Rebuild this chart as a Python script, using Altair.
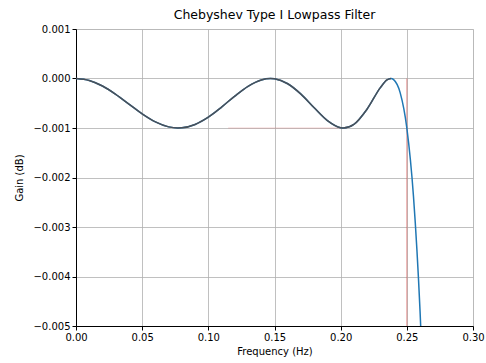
import altair as alt
import pandas as pd

# Frequency (Hz) and gain (dB)
freq = [0.0, 0.01, 0.02, 0.03, 0.04, 0.05, 0.06, 0.07, 0.077, 0.08, 0.09, 0.10,
        0.11, 0.12, 0.13, 0.14, 0.147, 0.15, 0.16, 0.17, 0.18, 0.19, 0.20, 0.202,
        0.21, 0.22, 0.23, 0.235, 0.238, 0.24, 0.245, 0.25, 0.255, 0.26, 0.262]
gain = [0.0, -0.0000395, -0.000152, -0.000320, -0.000518, -0.000714, -0.000877,
        -0.000977, -0.001, -0.000997, -0.000929, -0.000781, -0.000578, -0.000355,
        -0.000157, -0.0000285, 0.0, -0.0000058, -0.000106, -0.000316, -0.000592,
        -0.000851, -0.000994, -0.001, -0.000927, -0.000617, -0.000184, -0.0000286,
        0.0, -0.0000229, -0.00029, -0.001, -0.002375, -0.004705, -0.005984]

# overlay (dark) portion of the curve ends at the last ripple peak
overlay_end = 0.238

cutoff_x = [0.25]
cutoff_y = [0.0, -0.005]
ripple_y = [-0.001]
ripple_x = [0.115, 0.205]

df = pd.DataFrame({"f": freq, "g": gain})
df_dark = df[df["f"] <= overlay_end]

FONT = "DejaVu Sans"

xscale = alt.Scale(domain=[0, 0.30], nice=False, zero=False)
yscale = alt.Scale(domain=[-0.005, 0.001], nice=False, zero=False)

xaxis = alt.Axis(values=[0, 0.05, 0.10, 0.15, 0.20, 0.25, 0.30], format=".2f",
                 title="Frequency (Hz)", grid=True, gridColor="#b0b0b0",
                 gridWidth=0.8, tickColor="black", domainColor="black",
                 tickSize=4, labelFont=FONT, labelFontSize=10, labelColor="black",
                 titleFont=FONT, titleFontSize=10, titleFontWeight="normal",
                 titleColor="black", labelPadding=2, titlePadding=4,
                 labelFlush=False, labelOverlap=False)
yaxis = alt.Axis(values=[0.001, 0.0, -0.001, -0.002, -0.003, -0.004, -0.005],
                 format=".3f", title="Gain (dB)", grid=True, gridColor="#b0b0b0",
                 gridWidth=0.8, tickColor="black", domainColor="black",
                 tickSize=4, labelFont=FONT, labelFontSize=10, labelColor="black",
                 titleFont=FONT, titleFontSize=10, titleFontWeight="normal",
                 titleColor="black", labelPadding=2, titlePadding=8,
                 labelFlush=False, labelOverlap=False)

blue = alt.Chart(df).mark_line(color="#1f77b4", strokeWidth=1.5, clip=True,
                               interpolate="monotone").encode(
    x=alt.X("f:Q", scale=xscale, axis=xaxis),
    y=alt.Y("g:Q", scale=yscale, axis=yaxis),
)
dark = alt.Chart(df_dark).mark_line(color="#4a5058", strokeWidth=1.5, clip=True,
                                    interpolate="monotone").encode(
    x=alt.X("f:Q", scale=xscale),
    y=alt.Y("g:Q", scale=yscale),
)

vline = alt.Chart(pd.DataFrame({"x": cutoff_x, "y1": [cutoff_y[0]], "y2": [cutoff_y[1]]})).mark_rule(
    color="#d9534f", strokeWidth=0.8, opacity=0.75).encode(
    x=alt.X("x:Q", scale=xscale), y=alt.Y("y1:Q", scale=yscale), y2="y2:Q")

hline = alt.Chart(pd.DataFrame({"y": ripple_y, "x1": [ripple_x[0]], "x2": [ripple_x[1]]})).mark_rule(
    color="#e06a6a", strokeWidth=0.8, opacity=0.4).encode(
    y=alt.Y("y:Q", scale=yscale), x=alt.X("x1:Q", scale=xscale), x2="x2:Q")

chart = alt.layer(hline, vline, blue, dark).properties(
    width=397, height=297,
    title=alt.TitleParams("Chebyshev Type I Lowpass Filter", font=FONT,
                          fontSize=12.5, fontWeight="normal", color="black",
                          offset=3, frame="group"),
    autosize=alt.AutoSizeParams(type="none"),
    padding={"left": 76, "top": 29, "right": 13, "bottom": 37},
).configure_view(stroke="black", strokeWidth=1).configure(background="white")

chart.save("out.html", embed_options={"renderer": "svg", "actions": False})
